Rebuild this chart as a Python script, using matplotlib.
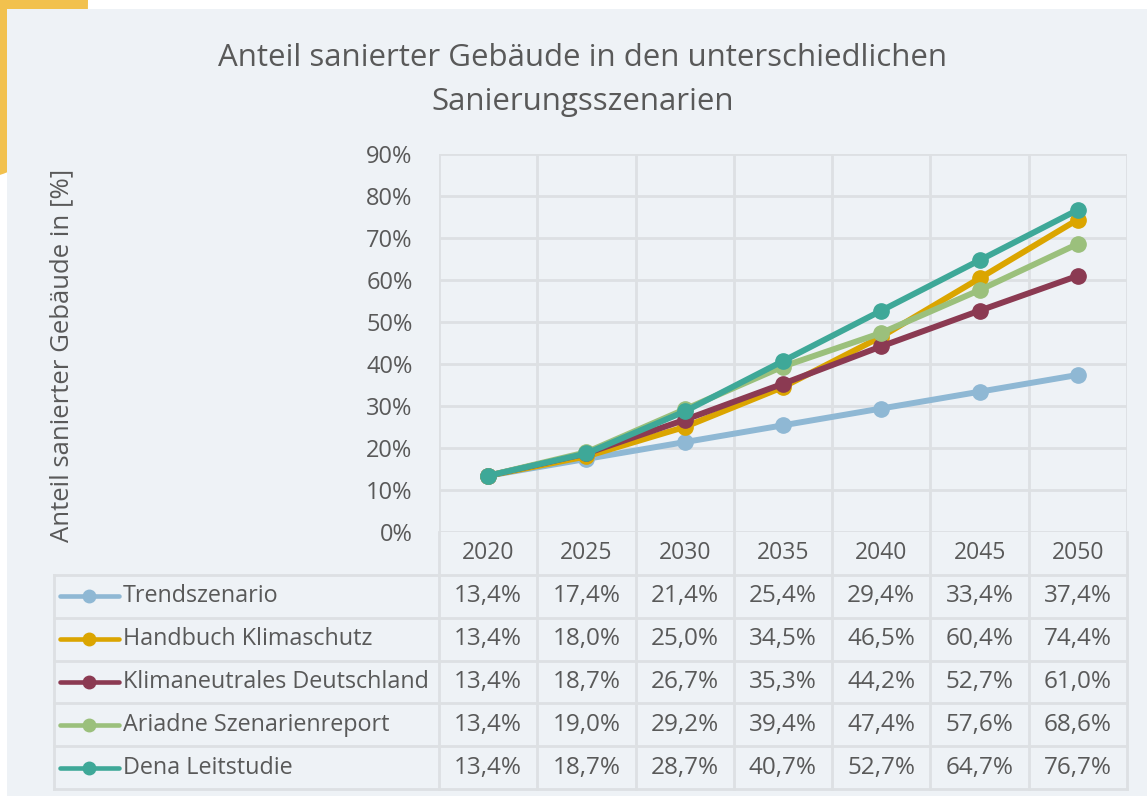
import matplotlib.pyplot as plt
from matplotlib.patches import Ellipse, Rectangle

plt.rcParams['font.family'] = ['Open Sans', 'DejaVu Sans']

jahre = ['2020', '2025', '2030', '2035', '2040', '2045', '2050']
szenarien = ['Trendszenario', 'Handbuch Klimaschutz', 'Klimaneutrales Deutschland',
             'Ariadne Szenarienreport', 'Dena Leitstudie']
trend = [13.4, 17.4, 21.4, 25.4, 29.4, 33.4, 37.4]
handbuch = [13.4, 18.0, 25.0, 34.5, 46.5, 60.4, 74.4]
klimaneutral = [13.4, 18.7, 26.7, 35.3, 44.2, 52.7, 61.0]
ariadne = [13.4, 19.0, 29.2, 39.4, 47.4, 57.6, 68.6]
dena = [13.4, 18.7, 28.7, 40.7, 52.7, 64.7, 76.7]
farben = ['#8fb8d4', '#dba500', '#8b3a52', '#9bc07c', '#3ea898']

werte = [trend, handbuch, klimaneutral, ariadne, dena]
TEXT = '#595959'
GRID = '#dde0e3'
W, H = 1147, 796

fig = plt.figure(figsize=(W / 100, H / 100), dpi=100)
fig.patch.set_facecolor('white')

# gelbe Deko oben links + Hintergrundfläche
fig.patches.append(Ellipse((-20, H), 216, 356, transform=None,
                           facecolor='#f2c14e', edgecolor='none', zorder=-3))
fig.patches.append(Rectangle((7, 0), W - 7, H - 9, transform=None,
                             facecolor='#eef2f6', edgecolor='none', zorder=-2))

def px(x0, y0, x1, y1):
    return [x0 / W, (H - y1) / H, (x1 - x0) / W, (y1 - y0) / H]

ax = fig.add_axes(px(439, 154, 1127, 532))
ax.set_facecolor('none')
x = range(len(jahre))
for name, vals, col in zip(szenarien, werte, farben):
    ax.plot(x, vals, color=col, linewidth=4.3, marker='o', markersize=11,
            solid_capstyle='round', label=name, zorder=3)
ax.set_xlim(-0.5, len(jahre) - 0.5)
ax.set_ylim(0, 90)
ax.set_yticks(range(0, 91, 10))
ax.set_yticklabels([f'{v}%' for v in range(0, 91, 10)])
ax.set_xticks([i - 0.5 for i in range(len(jahre) + 1)])
ax.set_xticklabels([])
ax.grid(True, color=GRID, linewidth=2)
ax.tick_params(length=0, pad=19, labelsize=17, labelcolor=TEXT)
for s in ax.spines.values():
    s.set_visible(False)

# Datentabelle unter dem Diagramm
tab = fig.add_axes(px(54, 532, 1127, 789))
tab.set_facecolor('none')
links = -4.417
tab.set_xlim(links, len(jahre) - 0.5)
tab.set_ylim(6, 0)
tab.axis('off')
n = len(jahre)
for i in range(n + 1):
    tab.plot([i - 0.5, i - 0.5], [0, 6], color=GRID, linewidth=2, clip_on=False)
tab.plot([links, links], [1, 6], color=GRID, linewidth=2, clip_on=False)
for r in range(1, 7):
    tab.plot([links, n - 0.5], [r, r], color=GRID, linewidth=2, clip_on=False)
for i, j in enumerate(jahre):
    tab.text(i, 0.48, j, ha='center', va='center', fontsize=16.5, color=TEXT)
for r, (name, vals, col) in enumerate(zip(szenarien, werte, farben), start=1):
    tab.plot([-4.356, -3.756], [r + 0.5, r + 0.5], color=col, linewidth=3.3,
             solid_capstyle='round', clip_on=False)
    tab.plot([-4.06], [r + 0.5], marker='o', markersize=9, color=col, clip_on=False)
    tab.text(-3.715, r + 0.5, name, ha='left', va='center', fontsize=16.8, color=TEXT)
    for i, v in enumerate(vals):
        tab.text(i, r + 0.5, f'{v:.1f}%'.replace('.', ','), ha='center',
                 va='center', fontsize=17.5, color=TEXT)

fig.text(583 / W, 1 - 80 / H,
         'Anteil sanierter Gebäude in den unterschiedlichen\nSanierungsszenarien',
         ha='center', va='center', fontsize=22.5, color=TEXT, linespacing=1.6)
fig.text(62 / W, 1 - 355 / H, 'Anteil sanierter Gebäude in [%]', rotation=90,
         ha='center', va='center', fontsize=18.5, color=TEXT)

fig.savefig('out.png', dpi=100)
